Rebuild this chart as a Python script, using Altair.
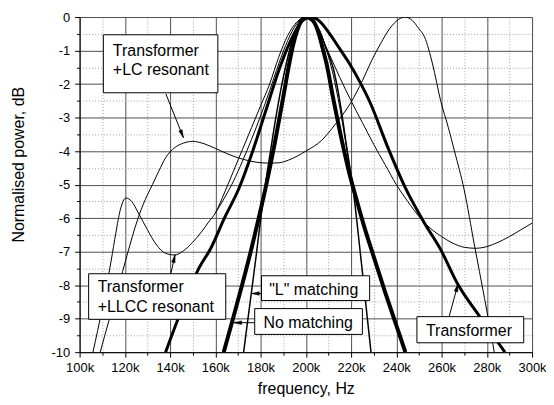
import math
import altair as alt
import pandas as pd

# ---------------- data (frequency in kHz, power in dB) ----------------
lc_f = [109.1, 113, 117, 121, 125.6, 129, 132.2, 135, 138, 142, 146, 150, 155, 160, 166, 172, 178, 184,
        188, 192.3, 200, 207, 213, 220, 225, 229, 233, 237, 241, 244, 247, 250, 252.5, 256, 259.6,
        263, 265.7, 270, 274.5, 279, 283.3]
lc_db = [-10, -9.05, -8.1, -7.1, -6.05, -5.45, -5.0, -4.6, -4.2, -3.9, -3.76, -3.71, -3.78, -3.92,
         -4.1, -4.24, -4.33, -4.36, -4.35, -4.27, -4.0, -3.68, -3.2, -2.54, -1.9, -1.31, -0.8, -0.35,
         -0.07, 0, -0.1, -0.35, -0.6, -1.4, -2.5, -3.3, -4.0, -5.16, -6.8, -8.4, -10]

llcc_f = [105.9, 108, 110, 112, 114, 116, 118, 120.5, 123, 126, 130, 134, 138, 142, 146, 150, 154,
          157, 160, 164, 168, 172, 176, 180, 184, 188, 192, 196, 200, 203, 206, 210, 215, 220, 225,
          230, 235, 240, 245, 250, 255, 260, 265, 270, 275, 280, 285, 290, 295, 300]
llcc_db = [-10, -9.35, -8.7, -8.0, -7.25, -6.45, -5.75, -5.4, -5.5, -5.85, -6.35, -6.8, -7.05, -7.1,
           -6.97, -6.72, -6.4, -6.12, -5.85, -5.25, -4.6, -3.95, -3.3, -2.65, -2.0, -1.2, -0.55,
           -0.15, 0, -0.1, -0.45, -1.05, -1.8, -2.5, -3.15, -3.8, -4.4, -5.0, -5.5, -5.95, -6.3,
           -6.55, -6.75, -6.87, -6.9, -6.85, -6.72, -6.55, -6.35, -6.15]

# second thin trace running beside the LLCC flank up to the main peak
ex_f = [160, 164, 168, 172, 176, 180, 184, 188, 192, 196, 200, 203, 206, 209, 212, 215, 218, 220]
ex_db = [-5.85, -5.4, -4.9, -4.3, -3.65, -2.95, -2.2, -1.4, -0.7, -0.2, 0, -0.1, -0.4, -0.95,
         -1.7, -2.7, -3.9, -4.75]

tr_f = [138, 145, 152.7, 158, 164, 170.5, 176, 182.5, 188, 193, 198, 202, 206, 210, 215, 219.4, 224,
        228.4, 236, 244, 252, 259.6, 267, 277, 288]
tr_db = [-10, -8.75, -7.5, -6.9, -6.0, -5.1, -4.1, -2.75, -1.6, -0.75, -0.15, 0, -0.12, -0.45,
         -0.95, -1.4, -1.95, -2.55, -3.85, -5.1, -6.1, -6.94, -7.95, -8.95, -10]

nm_f = [163.7, 168, 172, 176, 179, 183, 187, 190, 192.5, 194.5, 197, 200, 203, 205.5, 207.5, 209.5,
        212, 215, 219, 222, 226, 230, 235, 240, 244]
nm_db = [-10, -8.95, -7.95, -6.9, -6.05, -4.85, -3.5, -2.4, -1.45, -0.8, -0.25, 0, -0.1, -0.45,
         -0.95, -1.5, -2.4, -3.4, -4.6, -5.35, -6.3, -7.15, -8.2, -9.2, -10]

lm_f = [172.5, 175, 178, 180, 183, 186, 189, 191.5, 194, 197, 200, 203, 206, 209, 212, 215, 218, 221,
        224.5, 228.8]
lm_db = [-10, -8.7, -7.15, -6.05, -4.6, -3.3, -2.15, -1.35, -0.7, -0.2, 0, -0.1, -0.4, -0.95, -1.5,
         -2.5, -3.85, -5.2, -7.3, -10]

series_names = ["Transformer +LC resonant", "Transformer +LLCC resonant", "LLCC trace 2",
                "Transformer", "No matching", "L matching"]
series_f = [lc_f, llcc_f, ex_f, tr_f, nm_f, lm_f]
series_db = [lc_db, llcc_db, ex_db, tr_db, nm_db, lm_db]
series_width = [1, 1, 1, 3, 4, 1.5]

# annotation boxes
box_x1 = [110.5, 104.0, 180.4, 177.4, 249.1]
box_x2 = [161.1, 164.6, 228.2, 225.0, 296.3]
box_y1 = [-0.53, -7.66, -7.72, -8.70, -8.94]
box_y2 = [-2.26, -9.02, -8.46, -9.47, -9.72]

# annotation text lines
text_lines = ["Transformer", "+LC resonant", "Transformer", "+LLCC resonant", "\"L\" matching",
              "No matching", "Transformer"]
text_x = [114.7, 114.7, 108.0, 108.0, 183.8, 181.3, 253.1]
text_y = [-1.16, -1.72, -8.21, -8.80, -8.30, -9.27, -9.52]

# arrows (start -> tip)
arr_x0 = [138.1, 140.3, 180.4, 177.4, 263.4]
arr_y0 = [-2.29, -7.66, -8.25, -9.12, -8.92]
arr_x1 = [145.9, 142.2, 175.9, 168.1, 267.3]
arr_y1 = [-3.60, -7.09, -8.25, -9.12, -7.96]

x_ticks = list(range(100, 301, 10))
y_ticks = [v / 2 for v in range(-20, 1)]

# ---------------- chart ----------------
W, H = 455, 337
X_DOM = [100, 300]
Y_DOM = [-10, 0]
FONT = "Liberation Sans"

xs = alt.Scale(domain=X_DOM, nice=False, zero=False)
ys = alt.Scale(domain=Y_DOM, nice=False, zero=False)

minor_x = "datum.value % 20 != 0"
minor_y = "datum.value % 1 != 0"

x_axis = alt.Axis(
    values=x_ticks, title="frequency, Hz",
    labelExpr="datum.value % 20 == 0 ? datum.value + 'k' : ''",
    grid=True,
    gridColor={"condition": {"test": minor_x, "value": "#a0a0a0"}, "value": "#505050"},
    gridDash={"condition": {"test": minor_x, "value": [1, 2]}, "value": []},
    gridWidth=1,
    tickSize={"condition": {"test": minor_x, "value": 3}, "value": 5},
    tickColor="#000", domainColor="#000", tickWidth=1,
    labelFont=FONT, labelFontSize=13, labelColor="#000", labelPadding=4,
    titleFont=FONT, titleFontSize=16, titleFontWeight="normal", titleColor="#000",
    titleY=37, titleBaseline="middle", labelFlush=False, labelOverlap=False,
)
y_axis = alt.Axis(
    values=y_ticks, title="Normalised power, dB",
    labelExpr="datum.value % 1 == 0 ? '' + datum.value : ''",
    grid=True,
    gridColor={"condition": {"test": minor_y, "value": "#a0a0a0"}, "value": "#505050"},
    gridDash={"condition": {"test": minor_y, "value": [1, 2]}, "value": []},
    gridWidth=1,
    tickSize={"condition": {"test": minor_y, "value": 3}, "value": 5},
    tickColor="#000", domainColor="#000", tickWidth=1,
    labelFont=FONT, labelFontSize=13, labelColor="#000", labelPadding=5,
    titleFont=FONT, titleFontSize=16, titleFontWeight="normal", titleColor="#000",
    titleX=-61, titleY=148, titleAngle=270, titleAlign="center", titleBaseline="middle",
    labelFlush=False, labelOverlap=False,
)


def X(field):
    return alt.X(field, scale=xs, axis=x_axis)


def Y(field):
    return alt.Y(field, scale=ys, axis=y_axis)


layers = []
for name, fs, dbs, sw in zip(series_names, series_f, series_db, series_width):
    df = pd.DataFrame({"f": fs, "db": dbs, "series": name})
    layers.append(alt.Chart(df).mark_line(color="black", strokeWidth=sw, interpolate="monotone",
                                          clip=True).encode(x=X("f:Q"), y=Y("db:Q"), order="f:Q"))

boxes = pd.DataFrame({"x1": box_x1, "x2": box_x2, "y1": box_y1, "y2": box_y2})
box_layer = alt.Chart(boxes).mark_rect(fill="white", stroke="black", strokeWidth=1).encode(
    x=X("x1:Q"), x2="x2:Q", y=Y("y1:Q"), y2="y2:Q")

texts = pd.DataFrame({"t": text_lines, "x": text_x, "y": text_y})
text_layer = alt.Chart(texts).mark_text(align="left", baseline="alphabetic", font=FONT,
                                        fontSize=16, color="black").encode(
    x=X("x:Q"), y=Y("y:Q"), text="t:N")

sx = W / (X_DOM[1] - X_DOM[0])
sy = H / (Y_DOM[1] - Y_DOM[0])
angles = []
for a, b, c, d in zip(arr_x0, arr_y0, arr_x1, arr_y1):
    dx = (c - a) * sx
    dy = -(d - b) * sy
    angles.append(math.degrees(math.atan2(dx, -dy)) % 360)
arrows = pd.DataFrame({"x0": arr_x0, "y0": arr_y0, "x1": arr_x1, "y1": arr_y1, "ang": angles})
arrow_lines = alt.Chart(arrows).mark_rule(color="black", strokeWidth=1).encode(
    x=X("x0:Q"), y=Y("y0:Q"), x2="x1:Q", y2="y1:Q")
arrow_heads = alt.Chart(arrows).mark_point(shape="M0,0L0.45,2L-0.45,2Z", filled=True, fill="black",
                                           stroke="black", strokeWidth=0.5, opacity=1, size=64).encode(
    x=X("x1:Q"), y=Y("y1:Q"), angle=alt.Angle("ang:Q", scale=None))

chart = alt.layer(*layers, box_layer, text_layer, arrow_lines, arrow_heads).properties(
    width=W, height=H,
    autosize=alt.AutoSizeParams(type="none"),
    padding={"left": 72, "top": 8, "right": 14, "bottom": 44},
).configure_view(stroke="#666666", strokeWidth=1).configure(background="white")

chart.save("out.html", embed_options={"renderer": "svg", "actions": False})
